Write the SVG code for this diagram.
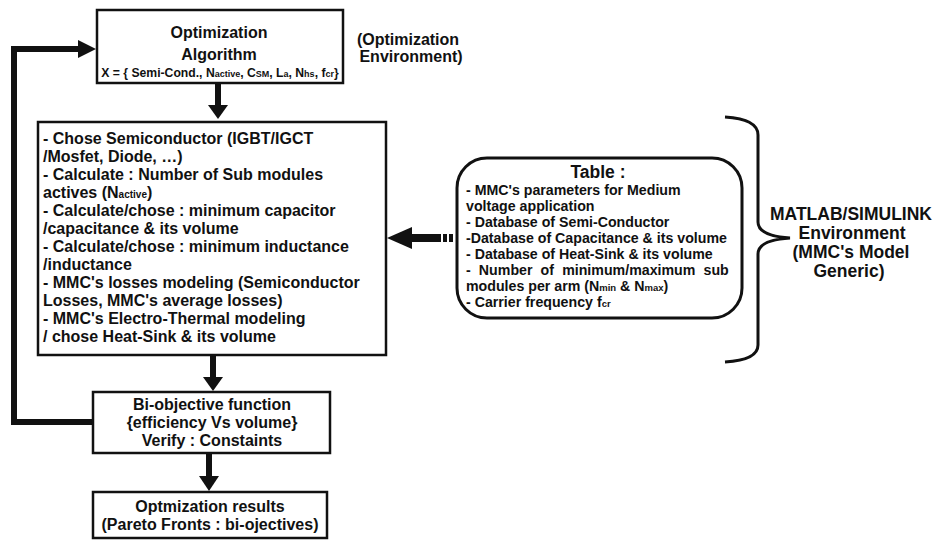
<svg xmlns="http://www.w3.org/2000/svg" width="936" height="541" viewBox="0 0 936 541">
<defs>
<style>
text{font-family:"Liberation Sans",Arial,sans-serif;font-weight:bold;fill:#111}
.box{fill:#fff;stroke:#111;stroke-width:2.5}
.c{text-anchor:middle}
.m{font-size:16px}
.t{font-size:14.2px}
.r{font-size:17.5px}
.ln{fill:none;stroke:#111;stroke-width:6}
.hd{fill:#111}
</style>
</defs>
<rect width="936" height="541" fill="#fff"/>
<g id="connectors">
  <line class="ln" x1="218" y1="83" x2="218" y2="106"/>
  <polygon class="hd" points="208,105 228,105 218,119"/>
  <line class="ln" x1="213" y1="355" x2="213" y2="378"/>
  <polygon class="hd" points="203,377 223,377 213,391"/>
  <line class="ln" x1="209" y1="453" x2="209" y2="477"/>
  <polygon class="hd" points="199,476 219,476 209,491"/>
  <polyline class="ln" points="93,422 14,422 14,49 80,49"/>
  <polygon class="hd" points="78,40 96,49 78,58"/>
  <line class="ln" x1="410" y1="238" x2="441" y2="238" style="stroke-width:8"/>
  <rect class="hd" x="443" y="234" width="4" height="8"/>
  <rect class="hd" x="449" y="234" width="4" height="8"/>
  <polygon class="hd" points="412,227 412,249 387,238"/>
  <path d="M725,117 Q758,119 758,135 L758,222 Q758,236 790,238 Q758,240 758,254 L758,345 Q758,360 725,362" fill="none" stroke="#111" stroke-width="3"/>
</g>
<g id="optimization-algorithm">
  <rect class="box" x="97" y="10" width="246" height="73"/>
  <text class="c" x="219" y="38" style="font-size:16px">Optimization</text>
  <text class="c" x="219" y="60" style="font-size:16px">Algorithm</text>
  <text class="c" x="220" y="77" style="font-size:12.2px">X = { Semi-Cond., N<tspan style="font-size:9px">active</tspan>, C<tspan style="font-size:9px">SM</tspan>, L<tspan style="font-size:9px">a</tspan>, N<tspan style="font-size:9px">hs</tspan>, f<tspan style="font-size:9px">cr</tspan>}</text>
</g>
<g id="optimization-env">
  <text class="c" x="408" y="45" style="font-size:16px">(Optimization</text>
  <text class="c" x="411" y="62" style="font-size:16px">Environment)</text>
</g>
<g id="main-steps">
  <rect class="box" x="38" y="122" width="348" height="233"/>
  <text class="m" x="43" y="144">- Chose Semiconductor (IGBT/IGCT</text>
  <text class="m" x="43" y="162">/Mosfet, Diode, …)</text>
  <text class="m" x="43" y="180">- Calculate : Number of Sub modules</text>
  <text class="m" x="43" y="198">actives (N<tspan style="font-size:10px">active</tspan>)</text>
  <text class="m" x="43" y="216">- Calculate/chose : minimum capacitor</text>
  <text class="m" x="43" y="234">/capacitance &amp; its volume</text>
  <text class="m" x="43" y="252">- Calculate/chose : minimum inductance</text>
  <text class="m" x="43" y="270">/inductance</text>
  <text class="m" x="43" y="288">- MMC's losses modeling (Semiconductor</text>
  <text class="m" x="43" y="306">Losses, MMC's average losses)</text>
  <text class="m" x="43" y="324">- MMC's Electro-Thermal modeling</text>
  <text class="m" x="43" y="342">/ chose Heat-Sink &amp; its volume</text>
</g>
<g id="table">
  <rect class="box" x="457" y="158" width="285" height="160" rx="30" ry="30" style="stroke-width:3"/>
  <text class="c" x="598" y="178" style="font-size:17.5px">Table :</text>
  <text class="t" x="466" y="195">- MMC's parameters for Medium</text>
  <text class="t" x="466" y="211">voltage application</text>
  <text class="t" x="466" y="227">- Database of Semi-Conductor</text>
  <text class="t" x="466" y="243">-Database of Capacitance &amp; its volume</text>
  <text class="t" x="466" y="259">- Database of Heat-Sink &amp; its volume</text>
  <text class="t" x="466" y="275" style="word-spacing:4.2px">- Number of minimum/maximum sub</text>
  <text class="t" x="466" y="291">modules per arm (N<tspan style="font-size:9.5px">min</tspan> &amp; N<tspan style="font-size:9.5px">max</tspan>)</text>
  <text class="t" x="466" y="307">- Carrier frequency f<tspan style="font-size:9.5px">cr</tspan></text>
</g>
<g id="matlab-env">
  <text class="c r" x="851" y="220">MATLAB/SIMULINK</text>
  <text class="c r" x="852" y="239">Environment</text>
  <text class="c r" x="851" y="258">(MMC's Model</text>
  <text class="c r" x="849" y="277">Generic)</text>
</g>
<g id="bi-objective">
  <rect class="box" x="93" y="392" width="237" height="61"/>
  <text class="c m" x="212" y="410">Bi-objective function</text>
  <text class="c m" x="212" y="428">{efficiency Vs volume}</text>
  <text class="c m" x="212" y="446">Verify : Constaints</text>
</g>
<g id="results">
  <rect class="box" x="93" y="492" width="234" height="46"/>
  <text class="c m" x="210" y="512">Optmization results</text>
  <text class="c m" x="210" y="530">(Pareto Fronts : bi-ojectives)</text>
</g>
</svg>
